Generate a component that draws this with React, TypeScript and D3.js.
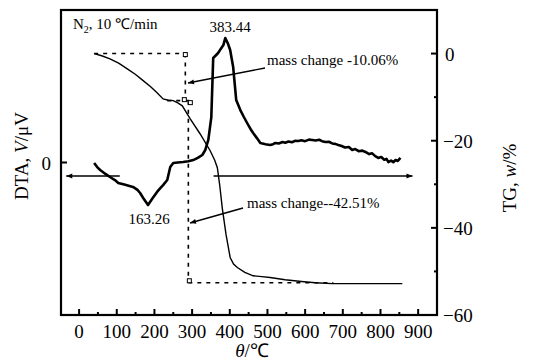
import React from "react";
import * as d3 from "d3";

// DTA curve (temperature °C, signal in arbitrary µV units)
const dtaTemp = [40, 48, 56, 70, 82, 95, 104, 120, 143, 155, 162, 172, 183, 195, 207, 215, 223, 234, 242, 250, 262, 276, 290, 303, 315, 327, 335, 343, 351, 356, 362, 369, 376, 383, 388, 395, 401, 409, 417, 428, 437, 446, 455, 462, 472, 481, 495, 507, 515, 521, 530, 540, 547, 556, 565, 573, 582, 590, 600, 610, 619, 628, 637, 645, 654, 663, 672, 680, 688, 697, 706, 716, 725, 733, 742, 752, 760, 770, 778, 786, 794, 802, 810, 816, 821, 828, 834, 840, 846, 853];
const dtaValue = [-0.03, -0.3, -0.49, -0.75, -0.95, -1.15, -1.34, -1.45, -1.6, -1.8, -2.0, -2.4, -2.79, -2.35, -1.93, -1.7, -1.48, -1.15, -0.3, -0.03, 0.0, 0.03, 0.08, 0.16, 0.3, 0.49, 0.82, 1.48, 2.98, 6.85, 7.0, 7.18, 7.45, 7.7, 8.16, 7.8, 7.38, 6.26, 4.1, 3.44, 3.0, 2.59, 2.2, 1.93, 1.6, 1.28, 1.2, 1.15, 1.2, 1.28, 1.25, 1.34, 1.3, 1.38, 1.33, 1.42, 1.41, 1.46, 1.4, 1.5, 1.48, 1.44, 1.49, 1.4, 1.34, 1.36, 1.25, 1.22, 1.15, 1.08, 0.98, 1.02, 0.82, 0.88, 0.74, 0.78, 0.69, 0.55, 0.6, 0.42, 0.3, 0.36, 0.18, 0.24, 0.03, 0.12, 0.02, 0.16, 0.1, 0.3];

// TG curve (temperature °C, mass change %)
const tgTemp = [40, 60, 82, 105, 128, 150, 170, 190, 207, 223, 237, 250, 262, 274, 295, 321, 348, 360, 367, 373, 380, 390, 401, 410, 420, 440, 462, 485, 507, 547, 590, 627, 672, 750, 858];
const tgValue = [0, -0.5, -1.2, -2.2, -3.5, -4.8, -6.2, -7.6, -9.0, -10.4, -10.7, -10.8, -11.3, -12.0, -15.0, -18.4, -22.3, -24.5, -26.2, -30.0, -35.4, -41.5, -46.8, -48.3, -49.1, -50.2, -51.0, -51.2, -51.4, -51.9, -52.3, -52.6, -52.8, -52.8, -52.8];

const xMajor = [0, 100, 200, 300, 400, 500, 600, 700, 800, 900];
const xMinor = [50, 150, 250, 350, 450, 550, 650, 750, 850];
const tgMajor = [0, -20, -40, -60];
const tgMinor = [-10, -30, -50];

// mass-change guide levels (TG %) and temperatures
const stepLevels = [0, -10.8, -52.6];
const stepTemps = [282, 290];

const W = 535;
const H = 364;
const left = 61, right = 437, top = 10, bottom = 315;
const font = "'Liberation Serif', 'Times New Roman', serif";

export default function App() {
  const x = d3.scaleLinear().domain([-48, 950]).range([left, right]);
  const yTG = d3.scaleLinear().domain([-60, 10]).range([bottom, top]);
  const yDTA = d3.scaleLinear().domain([-10, 10]).range([bottom, top]);

  const dtaLine = d3
    .line<number>()
    .x((d, i) => x(dtaTemp[i]))
    .y((d) => yDTA(d));
  const tgLine = d3
    .line<number>()
    .x((d, i) => x(tgTemp[i]))
    .y((d) => yTG(d));

  const [s0, s1, s2] = stepLevels;
  const [t0, t1] = stepTemps;
  const dash = "4,5";
  const sq = (cx: number, cy: number, k: number) => (
    <rect key={k} x={cx - 2} y={cy - 2} width={4} height={4} fill="white" stroke="black" strokeWidth={1} />
  );

  return (
    <svg width={W} height={H} style={{ position: "absolute", left: 0, top: 0, background: "white" }} fontFamily={font}>
      <defs>
        <marker id="ah" viewBox="0 0 10 10" refX="10" refY="5" markerWidth="9" markerHeight="6" orient="auto" markerUnits="userSpaceOnUse">
          <path d="M0,1 L10,5 L0,9 Z" fill="black" />
        </marker>
      </defs>

      {/* frame */}
      <rect x={left} y={top} width={right - left} height={bottom - top} fill="none" stroke="black" strokeWidth={2.2} />

      {/* x ticks */}
      {xMajor.map((t) => (
        <g key={"xm" + t}>
          <line x1={x(t)} x2={x(t)} y1={bottom} y2={bottom - 6} stroke="black" strokeWidth={2} />
          <text x={x(t)} y={bottom + 23} fontSize={19} textAnchor="middle">{t}</text>
        </g>
      ))}
      {xMinor.map((t) => (
        <line key={"xn" + t} x1={x(t)} x2={x(t)} y1={bottom} y2={bottom - 3} stroke="black" strokeWidth={2} />
      ))}

      {/* right TG axis */}
      {tgMajor.map((v) => (
        <g key={"tg" + v}>
          <line x1={right} x2={right - 6} y1={yTG(v)} y2={yTG(v)} stroke="black" strokeWidth={2} />
          <text x={v === 0 ? 445 : 443} y={yTG(v) + 7} fontSize={19}>{v === 0 ? "0" : "\u2212" + Math.abs(v)}</text>
        </g>
      ))}
      {tgMinor.map((v) => (
        <line key={"tgn" + v} x1={right} x2={right - 3} y1={yTG(v)} y2={yTG(v)} stroke="black" strokeWidth={2} />
      ))}

      {/* left DTA axis: only zero */}
      <line x1={left} x2={left + 6} y1={yDTA(0)} y2={yDTA(0)} stroke="black" strokeWidth={2} />
      <text x={51} y={yDTA(0) + 7} fontSize={19} textAnchor="end">0</text>

      {/* axis titles */}
      <text transform="translate(28,156) rotate(-90)" fontSize={19} textAnchor="middle">
        DTA, <tspan fontStyle="italic">V</tspan>/μV
      </text>
      <text transform="translate(516,178) rotate(-90)" fontSize={19} textAnchor="middle">
        TG, <tspan fontStyle="italic">w</tspan>/%
      </text>
      <text x={252} y={357} fontSize={19} textAnchor="middle">
        <tspan fontStyle="italic">θ</tspan>/℃
      </text>

      {/* guide dashed lines */}
      <g stroke="black" strokeWidth={1.6} strokeDasharray={dash} fill="none">
        <line x1={x(tgTemp[0])} x2={x(t0)} y1={yTG(s0)} y2={yTG(s0)} />
        <line x1={x(t0)} x2={x(t0)} y1={yTG(s0)} y2={yTG(s1)} />
        <line x1={x(234)} x2={x(303)} y1={yTG(s1)} y2={yTG(s1)} />
        <line x1={x(t1)} x2={x(t1)} y1={yTG(s1)} y2={yTG(s2)} />
        <line x1={x(t1)} x2={x(675)} y1={yTG(s2)} y2={yTG(s2)} />
      </g>
      {sq(x(t0), yTG(s0) + 1, 1)}
      {sq(x(t0) - 1, yTG(s1) - 1, 2)}
      {sq(x(t1) + 2, yTG(s1) + 2, 3)}
      {sq(x(t1) + 1, yTG(s2) - 2, 4)}

      {/* horizontal arrows */}
      <line x1={x(108)} x2={x(-34)} y1={176} y2={176} stroke="black" strokeWidth={1.4} markerEnd="url(#ah)" />
      <line x1={x(357)} x2={x(885)} y1={176} y2={176} stroke="black" strokeWidth={1.4} markerEnd="url(#ah)" />

      {/* curves */}
      <path d={tgLine(tgValue) || ""} fill="none" stroke="black" strokeWidth={1.4} />
      <path d={dtaLine(dtaValue) || ""} fill="none" stroke="black" strokeWidth={2.6} strokeLinejoin="round" />

      {/* annotations */}
      <text x={73} y={29} fontSize={15}>
        N<tspan fontSize={10} dy={4}>2</tspan><tspan dy={-4}>, 10 ℃/min</tspan>
      </text>
      <text x={230} y={32} fontSize={15} textAnchor="middle">383.44</text>
      <text x={149} y={224} fontSize={15} textAnchor="middle">163.26</text>
      <text x={267} y={65} fontSize={15}>mass change -10.06%</text>
      <text x={247} y={208} fontSize={15}>mass change--42.51%</text>
      <line x1={265} y1={68} x2={188} y2={83} stroke="black" strokeWidth={1.4} markerEnd="url(#ah)" />
      <line x1={243} y1={208} x2={190} y2={223} stroke="black" strokeWidth={1.4} markerEnd="url(#ah)" />
    </svg>
  );
}
